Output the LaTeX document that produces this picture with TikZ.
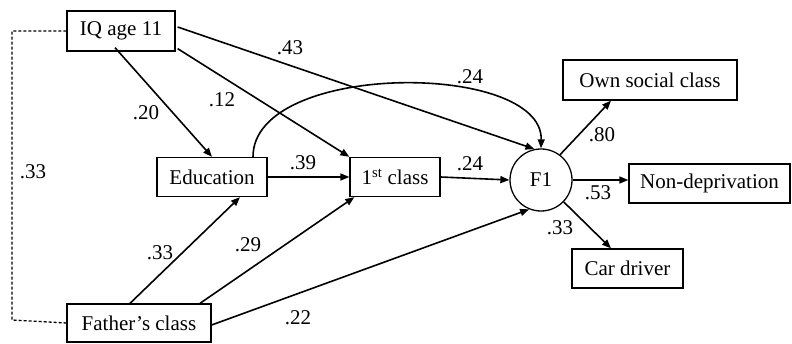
\documentclass[tikz,border=0pt]{standalone}
\usepackage{fontspec}
\setmainfont{Liberation Serif}
\usetikzlibrary{arrows.meta,calc}
\begin{document}
\begin{tikzpicture}[x=1pt,y=-1pt,
  every node/.style={font=\fontsize{21}{24}\selectfont},
  box/.style={draw,line width=1.3pt,rectangle,inner sep=0pt},
  lat/.style={draw,line width=1.3pt,circle,inner sep=0pt,minimum size=62pt},
  path/.style={line width=1.6pt,-{Triangle[length=9pt,width=7pt]}},
  coef/.style={inner sep=0pt},
  corr/.style={line width=1.3pt,dash pattern=on 3pt off 2pt}]
\useasboundingbox (0,0) rectangle (792,344);

% observed and latent variables
\node[box,minimum width=108pt,minimum height=40pt] (iq) at (121,31) {IQ age 11};
\node[box,minimum width=110pt,minimum height=39pt] (edu) at (212,177) {Education};
\node[box,minimum width=90pt,minimum height=39pt] (first) at (395,177) {1\textsuperscript{st} class};
\node[lat] (f1) at (541,180) {F1};
\node[box,minimum width=174pt,minimum height=40pt] (own) at (650,80) {Own social class};
\node[box,minimum width=161pt,minimum height=39pt] (nd) at (709.5,183.5) {Non-deprivation};
\node[box,minimum width=111pt,minimum height=39pt] (car) at (627.5,268.5) {Car driver};
\node[box,minimum width=144pt,minimum height=38pt] (father) at (139,323) {Father's class};

% correlation between the exogenous variables
\coordinate (dl) at (12,320);
\draw[corr] (iq.west) -| (dl) -- (father.west);

% paths
\draw[path] ([xshift=-6pt,yshift=4pt]iq.south) -- (edu.north);
\draw[path] ([xshift=2pt,yshift=3pt]iq.south east) -- (first.north west);
\draw[path] ([xshift=2pt,yshift=4pt]iq.east) -- (f1.102);
\draw[path] ([xshift=41pt]edu.north) .. controls (253,61) and (543,61) .. (f1.north);
\draw[path] (edu.east) -- (first.west);
\draw[path] (first.east) -- (f1.west);
\draw[path] (f1.53) -- ([xshift=-39pt]own.south);
\draw[path] (f1.east) -- (nd.west |- f1.east);
\draw[path] (f1.-44) -- ([xshift=-16.5pt]car.north);
\draw[path] ([xshift=-9pt]father.north) -- ([xshift=28pt]edu.south);
\draw[path] ([xshift=61pt]father.north) -- ([xshift=5pt]first.south west);
\draw[path] ([yshift=-2pt]father.east) -- (f1.248);

% coefficients
\node[coef] (c1) at (33,172) {.33};
\node[coef] (c2) at (146,113) {.20};
\node[coef] (c3) at (222,100) {.12};
\node[coef] (c4) at (290,48) {.43};
\node[coef] (c5) at (470,77) {.24};
\node[coef] (c6) at (303,163) {.39};
\node[coef] (c7) at (470,164) {.24};
\node[coef] (c8) at (602,135) {.80};
\node[coef] (c9) at (598,193) {.53};
\node[coef] (c10) at (560,228) {.33};
\node[coef] (c11) at (160,253) {.33};
\node[coef] (c12) at (248,245) {.29};
\node[coef] (c13) at (298,318) {.22};
\end{tikzpicture}
\end{document}
